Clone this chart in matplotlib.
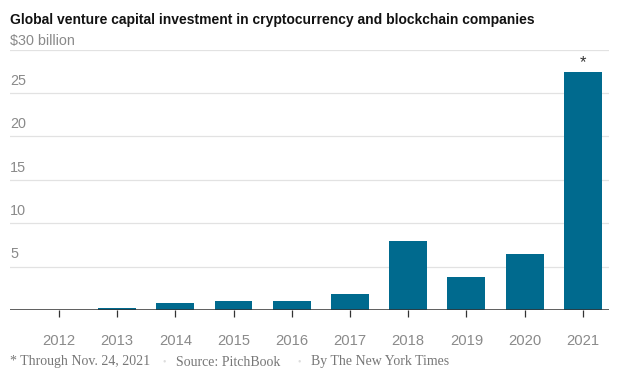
import matplotlib
matplotlib.use("Agg")
import matplotlib.pyplot as plt

years = ["2012", "2013", "2014", "2015", "2016", "2017", "2018", "2019", "2020", "2021"]
values = [0.0, 0.23, 0.8, 1.04, 1.04, 1.88, 7.96, 3.8, 6.46, 27.45]
yticks = [5, 10, 15, 20, 25]

W, H = 628, 385
fig = plt.figure(figsize=(W / 100, H / 100), dpi=100)
x0, x1 = 10, 609
ytop, ybot = 49.5, 310
ax = fig.add_axes([x0 / W, 1 - ybot / H, (x1 - x0) / W, (ybot - ytop) / H])

bar_color = "#006a8e"
xs = list(range(len(years)))
ax.bar(xs, values, width=0.65, color=bar_color, zorder=3)
ax.set_xlim(-0.84, 9.45)
ax.set_ylim(0, 30)

for v in yticks + [30]:
    ax.axhline(v, color="#e2e2e2", lw=0.9, zorder=1)
for v in yticks:
    ax.text(0.0, v + 0.6, str(v), transform=ax.get_yaxis_transform(),
            ha="left", va="bottom", fontsize=10.4, color="#8a8a8a",
            family="Liberation Sans")

ax.axhline(0, color="#333333", lw=1.1, zorder=4)
for s in ax.spines.values():
    s.set_visible(False)
ax.set_yticks([])
ax.set_xticks(xs)
ax.set_xticklabels(years, fontsize=10.6, color="#8a8a8a", family="Liberation Sans")
ax.tick_params(axis="x", length=5, width=0.9, color="#333333", pad=12)

ax.text(9, values[-1] + 0.15, "*", ha="center", va="bottom", fontsize=12,
        color="#333333", family="Liberation Sans")

fig.text(10 / W, 1 - 20 / H, "Global venture capital investment in cryptocurrency and blockchain companies",
         ha="left", va="center", fontsize=10, fontweight="bold", color="#121212", family="Liberation Sans")
fig.text(10 / W, 1 - 41 / H, "$30 billion", ha="left", va="center", fontsize=10.4,
         color="#8a8a8a", family="Liberation Sans")

fy = 1 - 362 / H
fig.text(10 / W, fy, "* Through Nov. 24, 2021", ha="left", va="center", fontsize=10,
         color="#777777", family="Liberation Serif")
fig.text(164 / W, fy, "•", ha="center", va="center", fontsize=7, color="#dddddd",
         family="Liberation Serif")
fig.text(176 / W, fy, "Source: PitchBook", ha="left", va="center", fontsize=10,
         color="#777777", family="Liberation Serif")
fig.text(299 / W, fy, "•", ha="center", va="center", fontsize=7, color="#dddddd",
         family="Liberation Serif")
fig.text(311 / W, fy, "By The New York Times", ha="left", va="center", fontsize=10,
         color="#777777", family="Liberation Serif")

fig.savefig("out.png", dpi=100)
